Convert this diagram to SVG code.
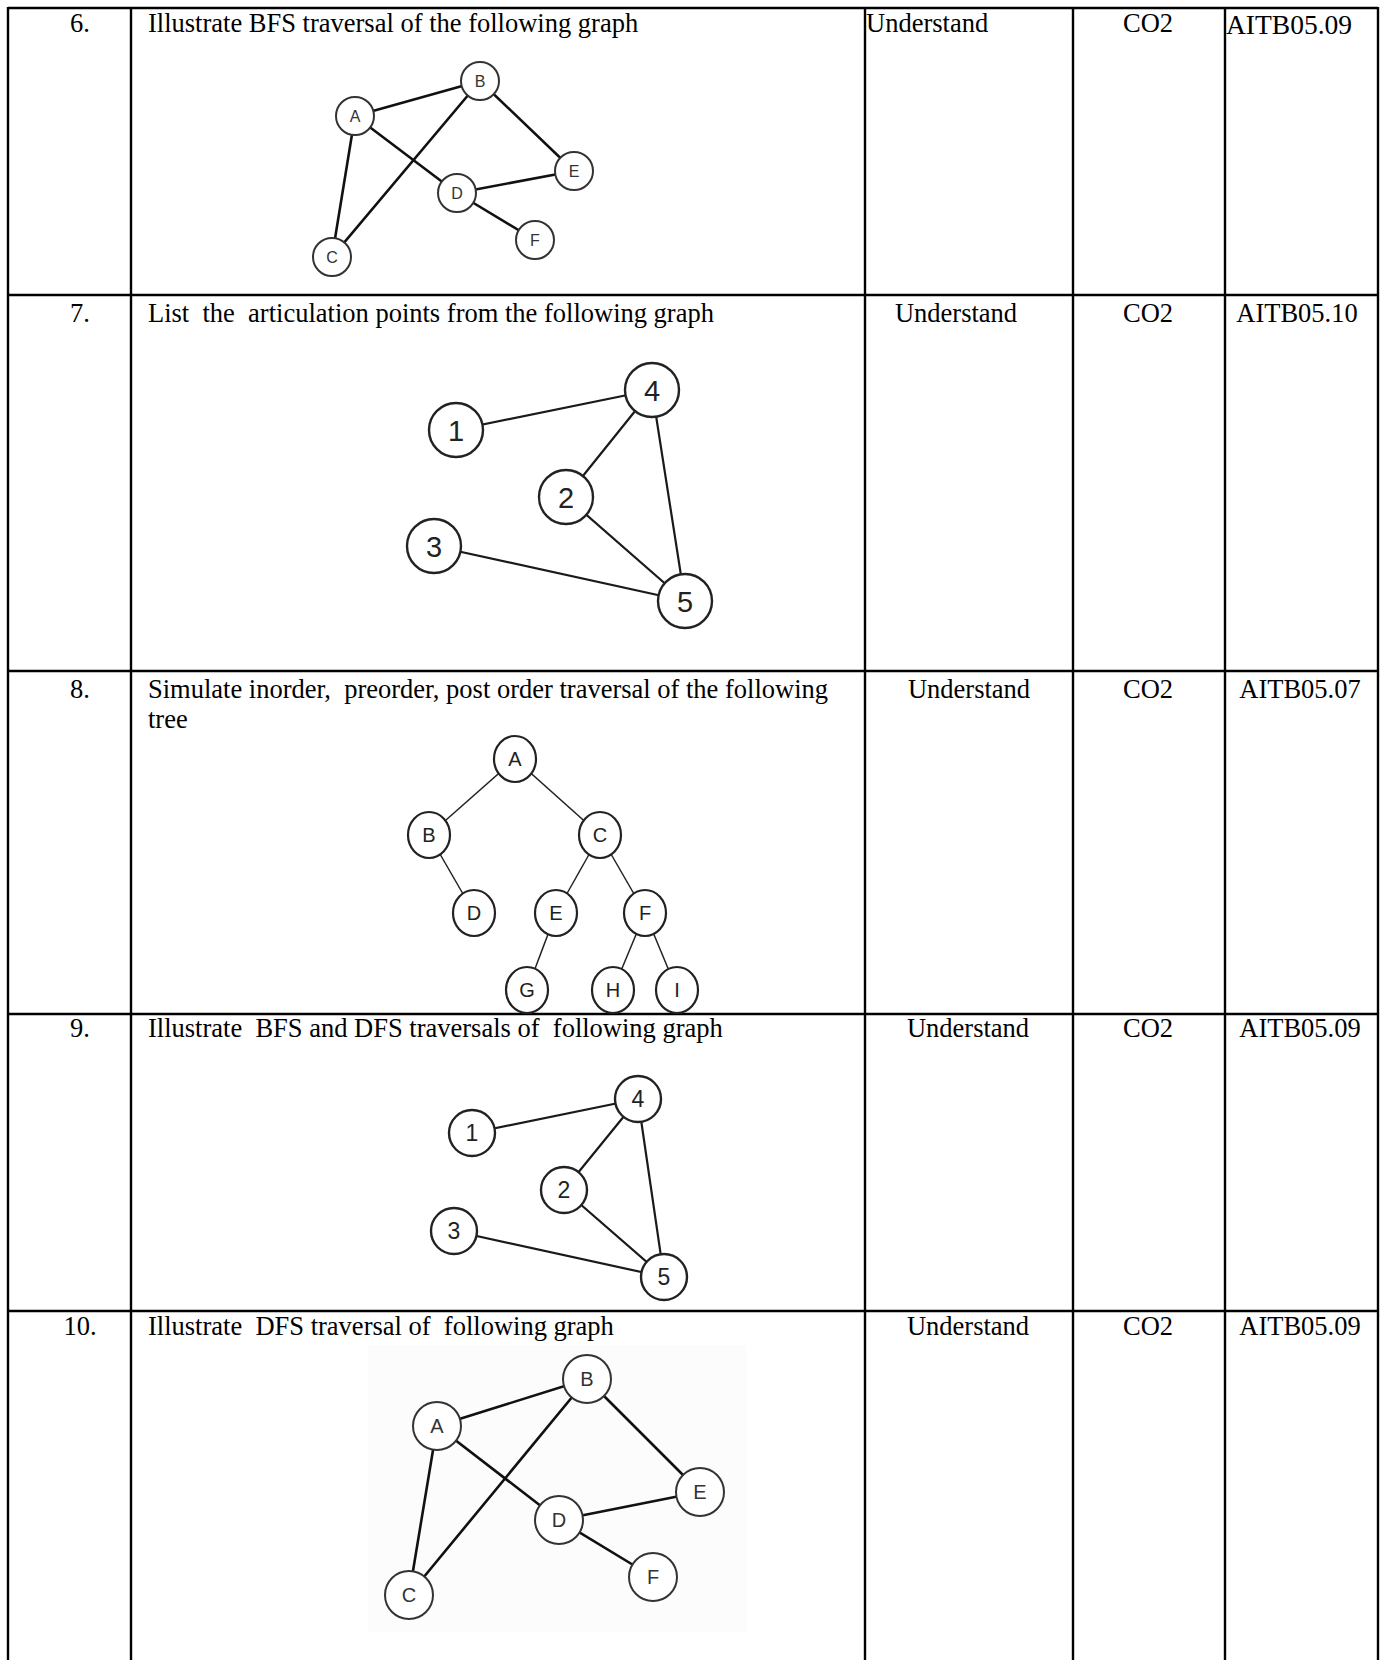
<svg xmlns="http://www.w3.org/2000/svg" width="1384" height="1660" viewBox="0 0 1384 1660">
<style>
.grid{stroke:#000;stroke-width:2.4;fill:none}
.t{font-family:"Liberation Serif","Times New Roman",serif;font-size:26.5px;fill:#000}
.m{text-anchor:middle}
.ea{stroke:#111;stroke-width:2.6;fill:none;stroke-linecap:round}
.eb{stroke:#1a1a1a;stroke-width:2.2;fill:none;stroke-linecap:round}
.et{stroke:#222;stroke-width:1.5;fill:none}
.na circle,.nd circle{fill:#fff;stroke:#333;stroke-width:2}
.nb circle,.nc circle{fill:#fff;stroke:#222;stroke-width:2.4}
.nt ellipse{fill:#fff;stroke:#222;stroke-width:2.2}
.lbl{font-family:"Liberation Sans",Arial,sans-serif;text-anchor:middle;fill:#333}
.na text{font-size:16px}
.nd text{font-size:20px}
.nb text{font-size:29px;fill:#222}
.nc text{font-size:23px;fill:#222}
.nt text{font-size:20px;fill:#222}
</style>

<g id="table">
  <line class="grid" x1="8" y1="8" x2="1378" y2="8"/>
  <line class="grid" x1="8" y1="295" x2="1378" y2="295"/>
  <line class="grid" x1="8" y1="671" x2="1378" y2="671"/>
  <line class="grid" x1="8" y1="1014" x2="1378" y2="1014"/>
  <line class="grid" x1="8" y1="1311" x2="1378" y2="1311"/>
  <line class="grid" x1="8" y1="7" x2="8" y2="1660"/>
  <line class="grid" x1="131" y1="7" x2="131" y2="1660"/>
  <line class="grid" x1="865" y1="7" x2="865" y2="1660"/>
  <line class="grid" x1="1073" y1="7" x2="1073" y2="1660"/>
  <line class="grid" x1="1225" y1="7" x2="1225" y2="1660"/>
  <line class="grid" x1="1378" y1="7" x2="1378" y2="1660"/>
</g>

<g id="row6-text">
  <text class="t m" x="80" y="32">6.</text>
  <text class="t" x="148" y="32">Illustrate BFS traversal of the following graph</text>
  <text class="t" x="866" y="32">Understand</text>
  <text class="t m" x="1148" y="32">CO2</text>
  <text class="t" x="1226" y="34" style="font-size:27.5px">AITB05.09</text>
</g>
<g id="row7-text">
  <text class="t m" x="80" y="322">7.</text>
  <text class="t" x="148" y="322" xml:space="preserve">List  the  articulation points from the following graph</text>
  <text class="t m" x="956" y="322">Understand</text>
  <text class="t m" x="1148" y="322">CO2</text>
  <text class="t m" x="1297" y="322">AITB05.10</text>
</g>
<g id="row8-text">
  <text class="t m" x="80" y="698">8.</text>
  <text class="t" x="148" y="698" xml:space="preserve">Simulate inorder,  preorder, post order traversal of the following</text>
  <text class="t" x="148" y="728">tree</text>
  <text class="t m" x="969" y="698">Understand</text>
  <text class="t m" x="1148" y="698">CO2</text>
  <text class="t m" x="1300" y="698">AITB05.07</text>
</g>
<g id="row9-text">
  <text class="t m" x="80" y="1037">9.</text>
  <text class="t" x="148" y="1037" xml:space="preserve">Illustrate  BFS and DFS traversals of  following graph</text>
  <text class="t m" x="968" y="1037">Understand</text>
  <text class="t m" x="1148" y="1037">CO2</text>
  <text class="t m" x="1300" y="1037">AITB05.09</text>
</g>
<g id="row10-text">
  <text class="t m" x="80" y="1335">10.</text>
  <text class="t" x="148" y="1335" xml:space="preserve">Illustrate  DFS traversal of  following graph</text>
  <text class="t m" x="968" y="1335">Understand</text>
  <text class="t m" x="1148" y="1335">CO2</text>
  <text class="t m" x="1300" y="1335">AITB05.09</text>
</g>

<!-- Graph 1 (question 6) -->
<g id="g1-edges">
  <line class="ea" x1="355" y1="116" x2="480" y2="81"/>
  <line class="ea" x1="355" y1="116" x2="332" y2="257"/>
  <line class="ea" x1="355" y1="116" x2="457" y2="193"/>
  <line class="ea" x1="480" y1="81" x2="332" y2="257"/>
  <line class="ea" x1="480" y1="81" x2="574" y2="171"/>
  <line class="ea" x1="457" y1="193" x2="574" y2="171"/>
  <line class="ea" x1="457" y1="193" x2="535" y2="240"/>
</g>
<g id="g1-A" class="na"><circle cx="355" cy="116" r="19"/><text class="lbl" x="355" y="122">A</text></g>
<g id="g1-B" class="na"><circle cx="480" cy="81" r="19"/><text class="lbl" x="480" y="87">B</text></g>
<g id="g1-C" class="na"><circle cx="332" cy="257" r="19"/><text class="lbl" x="332" y="263">C</text></g>
<g id="g1-D" class="na"><circle cx="457" cy="193" r="19"/><text class="lbl" x="457" y="199">D</text></g>
<g id="g1-E" class="na"><circle cx="574" cy="171" r="19"/><text class="lbl" x="574" y="177">E</text></g>
<g id="g1-F" class="na"><circle cx="535" cy="240" r="19"/><text class="lbl" x="535" y="246">F</text></g>

<!-- Graph 2 (question 7) -->
<g id="g2-edges">
  <line class="eb" x1="456" y1="430" x2="652" y2="390"/>
  <line class="eb" x1="652" y1="390" x2="566" y2="497"/>
  <line class="eb" x1="652" y1="390" x2="685" y2="601"/>
  <line class="eb" x1="566" y1="497" x2="685" y2="601"/>
  <line class="eb" x1="434" y1="546" x2="685" y2="601"/>
</g>
<g id="g2-1" class="nb"><circle cx="456" cy="430" r="27"/><text class="lbl" x="456" y="440.5">1</text></g>
<g id="g2-2" class="nb"><circle cx="566" cy="497" r="27"/><text class="lbl" x="566" y="507.5">2</text></g>
<g id="g2-3" class="nb"><circle cx="434" cy="546" r="27"/><text class="lbl" x="434" y="556.5">3</text></g>
<g id="g2-4" class="nb"><circle cx="652" cy="390" r="27"/><text class="lbl" x="652" y="400.5">4</text></g>
<g id="g2-5" class="nb"><circle cx="685" cy="601" r="27"/><text class="lbl" x="685" y="611.5">5</text></g>

<!-- Tree (question 8) -->
<g id="tree-edges">
  <line class="et" x1="515" y1="759" x2="429" y2="835"/>
  <line class="et" x1="515" y1="759" x2="600" y2="835"/>
  <line class="et" x1="429" y1="835" x2="474" y2="913"/>
  <line class="et" x1="600" y1="835" x2="556" y2="913"/>
  <line class="et" x1="600" y1="835" x2="645" y2="913"/>
  <line class="et" x1="556" y1="913" x2="527" y2="990"/>
  <line class="et" x1="645" y1="913" x2="613" y2="990"/>
  <line class="et" x1="645" y1="913" x2="677" y2="990"/>
</g>
<g id="t-A" class="nt"><ellipse cx="515" cy="759" rx="21" ry="23"/><text class="lbl" x="515" y="766">A</text></g>
<g id="t-B" class="nt"><ellipse cx="429" cy="835" rx="21" ry="23"/><text class="lbl" x="429" y="842">B</text></g>
<g id="t-C" class="nt"><ellipse cx="600" cy="835" rx="21" ry="23"/><text class="lbl" x="600" y="842">C</text></g>
<g id="t-D" class="nt"><ellipse cx="474" cy="913" rx="21" ry="23"/><text class="lbl" x="474" y="920">D</text></g>
<g id="t-E" class="nt"><ellipse cx="556" cy="913" rx="21" ry="23"/><text class="lbl" x="556" y="920">E</text></g>
<g id="t-F" class="nt"><ellipse cx="645" cy="913" rx="21" ry="23"/><text class="lbl" x="645" y="920">F</text></g>
<g id="t-G" class="nt"><ellipse cx="527" cy="990" rx="21" ry="23"/><text class="lbl" x="527" y="997">G</text></g>
<g id="t-H" class="nt"><ellipse cx="613" cy="990" rx="21" ry="23"/><text class="lbl" x="613" y="997">H</text></g>
<g id="t-I" class="nt"><ellipse cx="677" cy="990" rx="21" ry="23"/><text class="lbl" x="677" y="997">I</text></g>

<!-- Graph 4 (question 9) -->
<g id="g4-edges">
  <line class="eb" x1="472" y1="1133" x2="638" y2="1099"/>
  <line class="eb" x1="638" y1="1099" x2="564" y2="1190"/>
  <line class="eb" x1="638" y1="1099" x2="664" y2="1277"/>
  <line class="eb" x1="564" y1="1190" x2="664" y2="1277"/>
  <line class="eb" x1="454" y1="1231" x2="664" y2="1277"/>
</g>
<g id="g4-1" class="nc"><circle cx="472" cy="1133" r="23"/><text class="lbl" x="472" y="1141.2">1</text></g>
<g id="g4-2" class="nc"><circle cx="564" cy="1190" r="23"/><text class="lbl" x="564" y="1198.2">2</text></g>
<g id="g4-3" class="nc"><circle cx="454" cy="1231" r="23"/><text class="lbl" x="454" y="1239.2">3</text></g>
<g id="g4-4" class="nc"><circle cx="638" cy="1099" r="23"/><text class="lbl" x="638" y="1107.2">4</text></g>
<g id="g4-5" class="nc"><circle cx="664" cy="1277" r="23"/><text class="lbl" x="664" y="1285.2">5</text></g>

<!-- Graph 5 (question 10) -->
<rect x="368" y="1345" width="378" height="287" fill="#fcfcfc"/>
<g id="g5-edges">
  <line class="ea" x1="437" y1="1426" x2="587" y2="1379"/>
  <line class="ea" x1="437" y1="1426" x2="409" y2="1595"/>
  <line class="ea" x1="437" y1="1426" x2="559" y2="1520"/>
  <line class="ea" x1="587" y1="1379" x2="409" y2="1595"/>
  <line class="ea" x1="587" y1="1379" x2="700" y2="1492"/>
  <line class="ea" x1="559" y1="1520" x2="700" y2="1492"/>
  <line class="ea" x1="559" y1="1520" x2="653" y2="1577"/>
</g>
<g id="g5-A" class="nd"><circle cx="437" cy="1426" r="24"/><text class="lbl" x="437" y="1433">A</text></g>
<g id="g5-B" class="nd"><circle cx="587" cy="1379" r="24"/><text class="lbl" x="587" y="1386">B</text></g>
<g id="g5-C" class="nd"><circle cx="409" cy="1595" r="24"/><text class="lbl" x="409" y="1602">C</text></g>
<g id="g5-D" class="nd"><circle cx="559" cy="1520" r="24"/><text class="lbl" x="559" y="1527">D</text></g>
<g id="g5-E" class="nd"><circle cx="700" cy="1492" r="24"/><text class="lbl" x="700" y="1499">E</text></g>
<g id="g5-F" class="nd"><circle cx="653" cy="1577" r="24"/><text class="lbl" x="653" y="1584">F</text></g>
</svg>
